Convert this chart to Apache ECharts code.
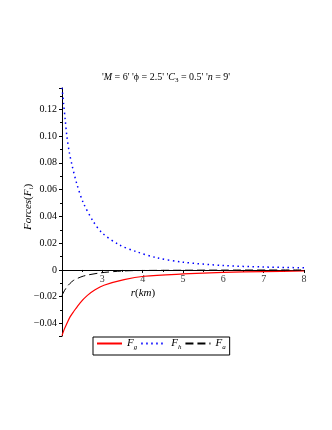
<!DOCTYPE html>
<html>
<head>
<meta charset="utf-8">
<script src="https://cdn.jsdelivr.net/npm/echarts@6/dist/echarts.min.js"></script>
<style>
  html, body { margin: 0; padding: 0; background: #fff; }
  #main { width: 332px; height: 430px; }
</style>
</head>
<body>
<div id="main"></div>
<script>
// values
const seriesNames = ["Fg", "Fh", "Fa"];
const xTicks = [3, 4, 5, 6, 7, 8];
const yTicks = [-0.04, -0.02, 0, 0.02, 0.04, 0.06, 0.08, 0.10, 0.12];

const rG = [2, 2.06, 2.12, 2.2, 2.29, 2.45, 2.63, 2.82, 3.04, 3.54, 4.04, 5, 6, 7, 8];
const fG = [-0.049, -0.044, -0.040, -0.035, -0.031, -0.0245, -0.019, -0.0148, -0.0114, -0.0072, -0.0047, -0.0030, -0.0018, -0.0012, -0.0008];

const rH = [2, 2.04, 2.08, 2.12, 2.18, 2.25, 2.36, 2.53, 2.78, 3.0, 3.42, 3.84, 4.34, 5, 6, 7, 8];
const fH = [0.136, 0.124, 0.112, 0.100, 0.088, 0.078, 0.065, 0.050, 0.036, 0.0275, 0.0187, 0.0137, 0.0092, 0.0058, 0.0033, 0.0022, 0.0016];

const rA = [2, 2.06, 2.12, 2.2, 2.29, 2.54, 2.95, 3.5, 4, 5, 6, 8];
const fA = [-0.019, -0.0155, -0.0127, -0.0100, -0.0077, -0.0045, -0.0022, -0.0008, -0.0004, -0.0002, -0.0001, 0];

const pairs = (xs, ys) => xs.map((x, i) => [x, ys[i]]);
const serif = "Liberation Serif";

const chart = echarts.init(document.getElementById("main"));

chart.setOption({
  backgroundColor: "#fff",
  animation: false,
  title: {
    left: "center",
    top: 66,
    text: "{a|'}{i|M}{a| = 6' 'ϕ = 2.5' '}{i|C}{s|3}{a| = 0.5' '}{i|n}{a| = 9'}",
    textStyle: {
      fontWeight: "normal",
      rich: {
        a: { fontFamily: serif, fontSize: 10, fontWeight: "normal", color: "#000" },
        i: { fontFamily: serif, fontSize: 10, fontWeight: "normal", fontStyle: "italic", color: "#000" },
        s: { fontFamily: serif, fontSize: 7, fontWeight: "normal", color: "#000", padding: [6, 0, 0, 0] }
      }
    }
  },
  grid: { left: 62, right: 28, top: 88, bottom: 94 },
  xAxis: {
    type: "value",
    min: 2,
    max: 8,
    interval: 1,
    axisLine: { onZero: true, lineStyle: { color: "#000", width: 1 } },
    axisTick: { show: true, length: 3, lineStyle: { color: "#000" } },
    minorTick: { show: true, splitNumber: 2, length: 2, lineStyle: { color: "#000" } },
    splitLine: { show: false },
    axisLabel: { show: false }
  },
  yAxis: {
    type: "value",
    min: -0.0493,
    max: 0.1358,
    splitNumber: 9,
    axisLine: { show: true, onZero: false, lineStyle: { color: "#000", width: 1 } },
    axisTick: { show: true, length: 3, lineStyle: { color: "#000" } },
    minorTick: { show: true, splitNumber: 2, length: 2, lineStyle: { color: "#000" } },
    splitLine: { show: false },
    axisLabel: {
      margin: 5,
      fontFamily: serif,
      fontSize: 10,
      color: "#000",
      formatter: v => {
        const t = yTicks.find(y => Math.abs(y - v) < 1e-6);
        if (t === undefined) return "";
        if (t === 0) return "0";
        return (t < 0 ? "\u2212" : "") + Math.abs(t).toFixed(2);
      }
    }
  },
  legend: {
    left: 93,
    top: 337,
    orient: "horizontal",
    padding: [1, 4, 4, 3],
    itemGap: 3,
    itemWidth: 25,
    itemHeight: 10,
    borderColor: "#000",
    borderWidth: 1,
    borderRadius: 0,
    data: seriesNames,
    itemStyle: { opacity: 0 },
    formatter: n => "{i|F}{s|" + n.slice(1) + "}",
    textStyle: {
      rich: {
        i: { fontFamily: serif, fontSize: 11, fontStyle: "italic", color: "#000" },
        s: { fontFamily: serif, fontSize: 7, fontStyle: "italic", color: "#000", padding: [8, 0, 0, 0] }
      }
    }
  },
  graphic: [
    {
      type: "text",
      x: 28,
      y: 207,
      rotation: Math.PI / 2,
      style: {
        text: "{i|Forces}{a|(}{i|F}{s|i}{a|)}",
        align: "center",
        verticalAlign: "middle",
        rich: {
          a: { fontFamily: serif, fontSize: 11, color: "#000" },
          i: { fontFamily: serif, fontSize: 11, fontStyle: "italic", color: "#000" },
          s: { fontFamily: serif, fontSize: 7, fontStyle: "italic", color: "#000", padding: [6, 0, 0, 0] }
        }
      }
    },
    {
      type: "text",
      x: 143,
      y: 293,
      style: {
        text: "{i|r}{a|(}{i|km}{a|)}",
        align: "center",
        verticalAlign: "middle",
        rich: {
          a: { fontFamily: serif, fontSize: 11, color: "#000" },
          i: { fontFamily: serif, fontSize: 11, fontStyle: "italic", color: "#000" }
        }
      }
    }
  ],
  series: [
    {
      name: "Fg",
      type: "line",
      data: pairs(rG, fG),
      smooth: 0.3,
      showSymbol: false,
      symbol: "none",
      color: "#ff0000",
      lineStyle: { color: "#ff0000", width: 1.2 }
    },
    {
      name: "Fh",
      type: "line",
      data: pairs(rH, fH),
      smooth: 0.3,
      showSymbol: false,
      symbol: "none",
      color: "#0000ff",
      lineStyle: { color: "#0000ff", width: 1.5, type: [1.5, 3.5] }
    },
    {
      name: "Fa",
      type: "line",
      data: pairs(rA, fA),
      smooth: 0.3,
      showSymbol: false,
      symbol: "none",
      color: "#000",
      lineStyle: { color: "#000", width: 1, type: [8, 4] }
    },
    {
      // x tick labels sitting under the axis line at y = 0
      name: "xlabels",
      type: "scatter",
      data: xTicks.map(x => [x, 0]),
      symbolSize: 0,
      silent: true,
      label: {
        show: true,
        position: "bottom",
        distance: 4,
        fontFamily: serif,
        fontSize: 10,
        color: "#000",
        formatter: p => String(p.value[0])
      }
    }
  ]
});
</script>
</body>
</html>
